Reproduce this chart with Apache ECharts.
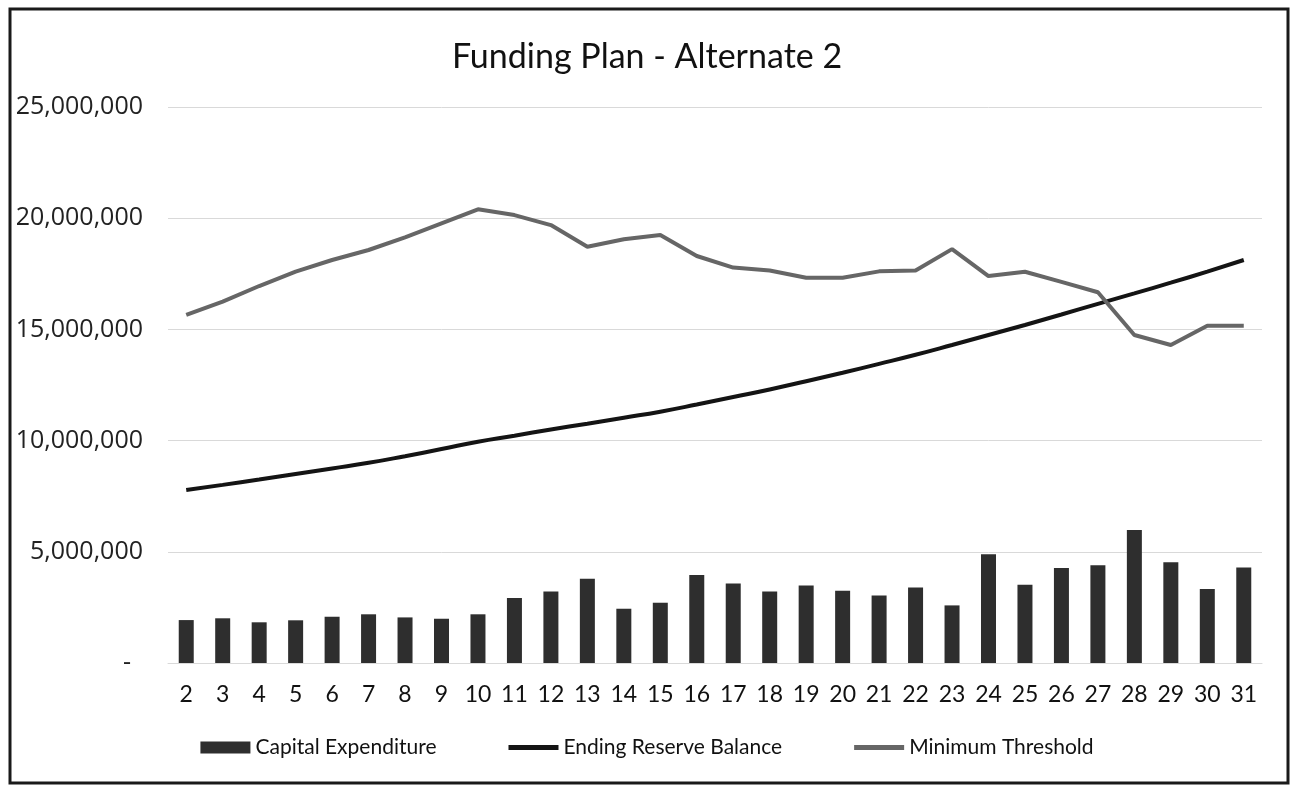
<!DOCTYPE html>
<html>
<head>
<meta charset="utf-8">
<script src="https://cdn.jsdelivr.net/npm/echarts@6/dist/echarts.min.js"></script>
<style>
  html, body { margin: 0; padding: 0; background: #fff; }
  #chart { width: 1294px; height: 786px; }
</style>
</head>
<body>
<div id="chart"></div>
<script>
// Years of the plan
const years = ['2','3','4','5','6','7','8','9','10','11','12','13','14','15','16','17','18','19','20','21','22','23','24','25','26','27','28','29','30','31'];

// Capital expenditure per year
const capitalExpenditure = [
  1930000, 2010000, 1830000, 1920000, 2080000, 2190000, 2050000, 1990000, 2190000, 2920000,
  3220000, 3790000, 2440000, 2710000, 3960000, 3580000, 3220000, 3490000, 3250000, 3040000,
  3390000, 2590000, 4890000, 3520000, 4270000, 4390000, 5980000, 4530000, 3330000, 4290000
];

// Ending reserve balance per year
const endingReserveBalance = [
  7780000, 8010000, 8250000, 8500000, 8750000, 9000000, 9300000, 9620000, 9950000, 10220000,
  10500000, 10760000, 11030000, 11300000, 11620000, 11960000, 12300000, 12670000, 13050000, 13450000,
  13860000, 14300000, 14750000, 15200000, 15670000, 16150000, 16620000, 17100000, 17600000, 18120000
];

// Minimum threshold per year
const minimumThreshold = [
  15650000, 16250000, 16950000, 17600000, 18120000, 18570000, 19140000, 19770000, 20400000, 20140000,
  19690000, 18720000, 19050000, 19240000, 18300000, 17780000, 17650000, 17320000, 17320000, 17610000,
  17650000, 18610000, 17400000, 17590000, 17140000, 16670000, 14750000, 14300000, 15160000, 15160000
];

const yTicks = { min: 0, max: 25000000, interval: 5000000 };

// Thin bar centred in a 12px-high legend slot (outer points only widen the bounds)
const lineIcon = 'path://M0,0L0.01,0L0.01,0.01ZM0,3.5H50V8.5H0ZM0,12L0.01,12L0.01,11.99Z';

const chart = echarts.init(document.getElementById('chart'), null, { renderer: 'canvas' });

const fmt = v => v === 0 ? '{z|-}' : v.toLocaleString('en-US');

chart.setOption({
  backgroundColor: '#ffffff',
  animation: false,
  title: {
    text: 'Funding Plan - Alternate 2',
    left: 'center',
    top: 35,
    textStyle: { fontFamily: 'Lato', fontSize: 34, fontWeight: 'normal', color: '#111' }
  },
  graphic: [{
    type: 'rect',
    shape: { x: 10, y: 9, width: 1278, height: 774 },
    style: { fill: 'none', stroke: '#1a1a1a', lineWidth: 3 },
    silent: true
  }],
  legend: {
    bottom: 23,
    left: 'center',
    itemGap: 72,
    itemWidth: 50,
    itemHeight: 12,
    textStyle: { fontFamily: 'Lato', fontSize: 21, color: '#111' },
    data: [
      { name: 'Capital Expenditure', icon: 'rect' },
      { name: 'Ending Reserve Balance', icon: lineIcon },
      { name: 'Minimum Threshold', icon: lineIcon }
    ]
  },
  grid: { left: 168, right: 32, top: 107, bottom: 123, containLabel: false },
  xAxis: {
    type: 'category',
    data: years,
    axisLine: { show: true, lineStyle: { color: '#d9d9d9', width: 1 } },
    axisTick: { show: false },
    axisLabel: { fontFamily: 'Lato', fontSize: 23, color: '#111', margin: 20 }
  },
  yAxis: {
    type: 'value',
    min: yTicks.min,
    max: yTicks.max,
    interval: yTicks.interval,
    axisLine: { show: false },
    axisTick: { show: false },
    splitLine: { lineStyle: { color: '#d9d9d9', width: 1 } },
    axisLabel: {
      fontFamily: 'Open Sans',
      fontSize: 25,
      color: '#222',
      margin: 25,
      formatter: fmt,
      rich: { z: { fontFamily: 'Open Sans', fontSize: 25, color: '#222', padding: [0, 12, 0, 0] } }
    }
  },
  series: [
    {
      name: 'Capital Expenditure',
      type: 'bar',
      data: capitalExpenditure,
      barWidth: 15,
      itemStyle: { color: '#2e2e2e' }
    },
    {
      name: 'Ending Reserve Balance',
      type: 'line',
      data: endingReserveBalance,
      symbol: 'none',
      smooth: true,
      lineStyle: { color: '#141414', width: 4 },
      itemStyle: { color: '#141414' }
    },
    {
      name: 'Minimum Threshold',
      type: 'line',
      data: minimumThreshold,
      symbol: 'none',
      lineStyle: { color: '#666666', width: 4 },
      itemStyle: { color: '#666666' }
    }
  ]
});
</script>
</body>
</html>
